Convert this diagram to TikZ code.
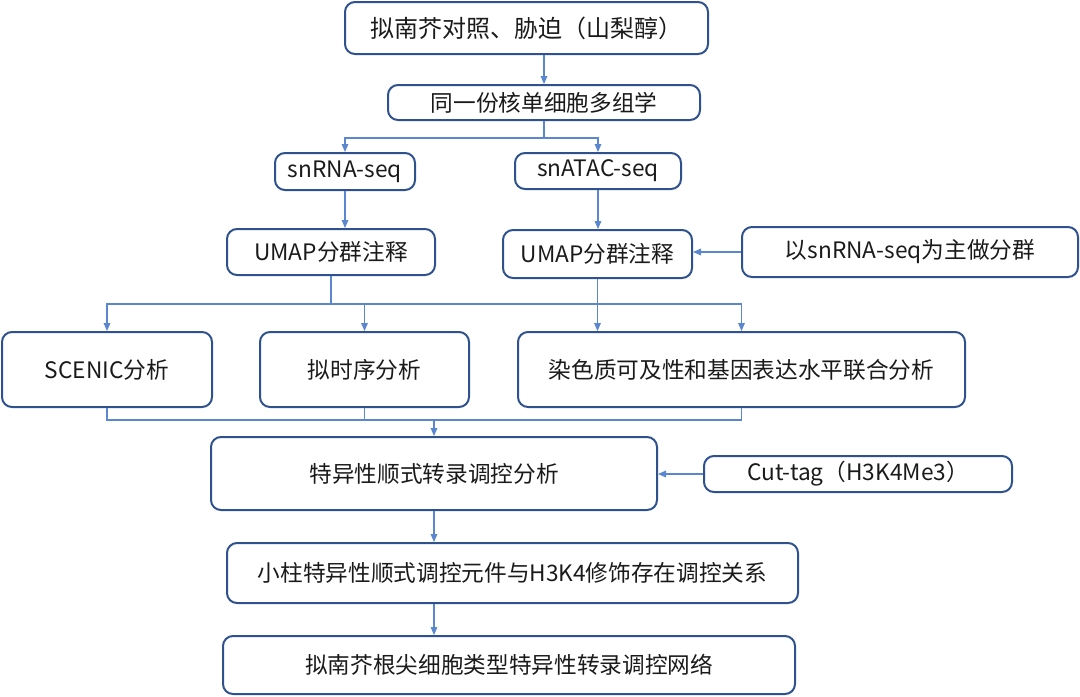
\documentclass[tikz,border=0pt]{standalone}
\usepackage{fontspec}
\newfontfamily\cjk{Noto Sans CJK SC}
\usetikzlibrary{arrows.meta,calc}
\definecolor{boxc}{HTML}{2F528F}
\definecolor{linec}{HTML}{5B86D0}
\definecolor{txtc}{HTML}{1A1A1A}
\tikzset{
  box/.style={draw=boxc, line width=1.5pt, rounded corners=7.5pt, inner sep=0pt,
    font=\cjk\fontsize{17}{20}\selectfont, text=txtc},
  conn/.style={draw=linec, line width=0.8pt},
  arr/.style={conn, -{Triangle[length=6pt,width=5pt]}},
}
% #1 x1, #2 y1, #3 x2, #4 y2 (pixel coords), #5 name
\newcommand\pbox[5]{\node[box, minimum width={(#3-#1)*0.75pt}, minimum height={(#4-#2)*0.75pt}] (#5) at ({(#1+#3)/2},{(#2+#4)/2})}
\begin{document}
\begin{tikzpicture}[x=0.75pt,y=-0.75pt]
\useasboundingbox (0,0) rectangle (1080,696);
\pbox{345}{2}{708}{54}{top} {\fontsize{18}{21}\selectfont 拟南芥对照、胁迫（山梨醇）};
\pbox{388}{85}{700}{120}{multi} {同一份核单细胞多组学};
\pbox{275}{153}{415}{190}{rna} {snRNA-seq};
\pbox{515}{153}{681}{189}{atac} {snATAC-seq};
\pbox{227}{229}{435}{275}{umapL} {UMAP分群注释};
\pbox{503}{230}{692}{278}{umapR} {UMAP分群注释};
\pbox{742}{227}{1078}{277}{side} {以snRNA-seq为主做分群};
\pbox{2}{332}{212}{407}{scenic} {SCENIC分析};
\pbox{260}{332}{469}{407}{pseudo} {拟时序分析};
\pbox{518}{332}{965}{407}{chrom} {染色质可及性和基因表达水平联合分析};
\pbox{211}{437}{657}{510}{tf} {特异性顺式转录调控分析};
\pbox{704}{456}{1012}{492}{cut} {Cut-tag（H3K4Me3）};
\pbox{227}{543}{798}{603}{elem} {小柱特异性顺式调控元件与H3K4修饰存在调控关系};
\pbox{223}{636}{795}{694}{net} {拟南芥根尖细胞类型特异性转录调控网络};

\draw[arr] (top.south -| multi.north) -- (multi.north);
\coordinate (j1) at (544,138);
\draw[conn] (multi.south) -- (j1);
\draw[arr] (j1) -| (rna.north);
\draw[arr] (j1) -| (atac.north);
\draw[arr] (rna.south) -- (rna.south |- umapL.north);
\draw[arr] (atac.south) -- (atac.south |- umapR.north);
\draw[arr] (side.west) -- (side.west -| umapR.east);

\coordinate (j2) at (331,304);
\draw[conn] (umapL.south) -- (j2);
\draw[arr] (j2) -| (scenic.north);
\draw[arr] (j2) -| (chrom.north);
\draw[arr] (j2 -| pseudo.north) -- (pseudo.north);
\draw[arr] (umapR.south) -- (umapR.south |- chrom.north);

\coordinate (j3) at (434,420);
\draw[conn] (scenic.south) |- (j3) -| (chrom.south);
\draw[conn] (pseudo.south) -- (pseudo.south |- j3);
\draw[arr] (j3) -- (tf.north);
\draw[arr] (cut.west) -- (cut.west -| tf.east);
\draw[arr] (tf.south) -- (tf.south |- elem.north);
\draw[arr] (elem.south -| tf.south) -- (tf.south |- net.north);
\end{tikzpicture}
\end{document}
